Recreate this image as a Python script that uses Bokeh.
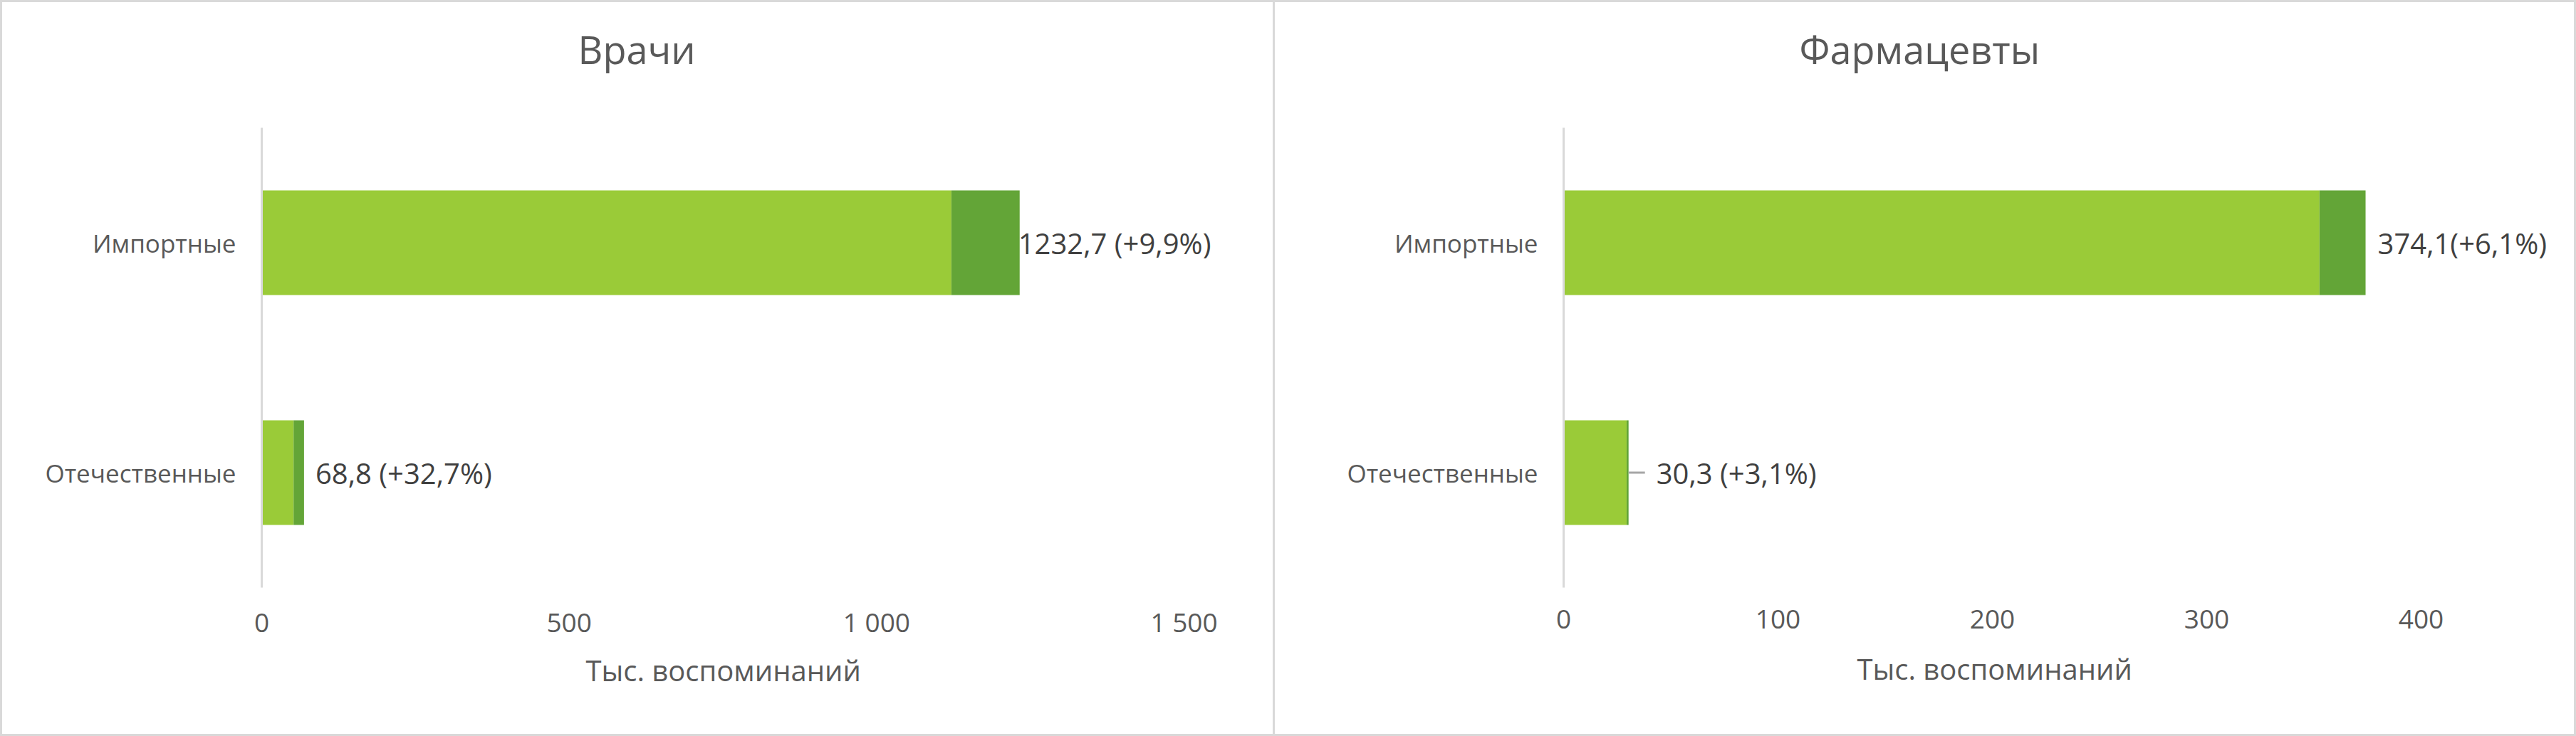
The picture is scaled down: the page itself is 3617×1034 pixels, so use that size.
from bokeh.plotting import figure
from bokeh.models import ColumnDataSource, FactorRange, Range1d, FixedTicker, LabelSet, Title
from bokeh.layouts import row
from bokeh.embed import file_html
from bokeh.resources import INLINE
from bokeh.core.properties import value

# ---------------- data ----------------
categories = ["Отечественные", "Импортные"]  # bottom -> top

doctors_title = "Врачи"
doctors_totals = [68.8, 1232.7]
doctors_growth = [32.7, 9.9]
doctors_labels = ["68,8 (+32,7%)", "1232,7 (+9,9%)"]
doctors_ticks = [0, 500, 1000, 1500]
doctors_tick_labels = ["0", "500", "1 000", "1 500"]

pharm_title = "Фармацевты"
pharm_totals = [30.3, 374.1]
pharm_growth = [3.1, 6.1]
pharm_labels = ["30,3 (+3,1%)", "374,1(+6,1%)"]
pharm_ticks = [0, 100, 200, 300, 400]
pharm_tick_labels = ["0", "100", "200", "300", "400"]

x_title = "Тыс. воспоминаний"

# ---------------- style ----------------
LIGHT = "#9ACB38"
DARK = "#63A537"
GRID = "#D9D9D9"
TXT = "#595959"
LBL = "#404040"
FONT = "Open Sans"

HEIGHT = 1034
FRAME_TOP = 179
FRAME_H = 646


def make_panel(title, totals, growth, labels, ticks, tick_labels,
               label_offsets, leader, width, frame_left, axis_px,
               title_offset, xtitle_offset, tick_standoff, xtitle_standoff,
               frame_css):
    axis_max = ticks[-1]
    frame_w = width - frame_left - 12
    x_end = axis_max * frame_w / float(axis_px)   # same scale, room for labels
    prev = [t / (1 + g / 100.0) for t, g in zip(totals, growth)]
    src = ColumnDataSource(dict(cat=categories, prev=prev, total=totals,
                                label=labels, off=label_offsets))
    p = figure(y_range=FactorRange(*categories), x_range=Range1d(0, x_end),
               frame_width=frame_w, frame_height=FRAME_H,
               min_border_left=frame_left,
               min_border_right=width - frame_left - frame_w,
               min_border_top=FRAME_TOP,
               min_border_bottom=HEIGHT - FRAME_TOP - FRAME_H,
               toolbar_location=None, tools="", output_backend="svg",
               styles=frame_css)
    p.background_fill_color = None
    p.border_fill_color = None
    p.outline_line_color = None
    p.xgrid.visible = False
    p.ygrid.visible = False

    p.hbar(y="cat", left=0, right="prev", height=0.455, fill_color=LIGHT,
           line_color=None, source=src)
    p.hbar(y="cat", left="prev", right="total", height=0.455, fill_color=DARK,
           line_color=None, source=src)

    # leader line for moved labels
    px = x_end / float(frame_w)
    lx0, lx1, ly = [], [], []
    for c, t, l in zip(categories, totals, leader):
        if l:
            lx0.append(t)
            lx1.append(t + 23 * px)
            ly.append(c)
    if lx0:
        p.segment(x0=lx0, x1=lx1, y0=ly, y1=ly, line_color="#A6A6A6", line_width=3)

    p.add_layout(LabelSet(x="total", y="cat", text="label", x_offset="off",
                          source=src, text_align="left", text_baseline="middle",
                          text_font=value(FONT), text_font_size="40px",
                          text_color=LBL))

    # x axis
    xa = p.xaxis[0]
    xa.ticker = FixedTicker(ticks=ticks)
    xa.major_label_overrides = {t: s for t, s in zip(ticks, tick_labels)}
    xa.axis_line_color = None
    xa.major_tick_line_color = None
    xa.minor_tick_line_color = None
    xa.major_tick_out = 0
    xa.major_tick_in = 0
    xa.major_label_standoff = tick_standoff
    xa.major_label_text_font = FONT
    xa.major_label_text_font_size = "37px"
    xa.major_label_text_color = TXT

    # x axis title (placed under the visible 0..max scale)
    p.add_layout(Title(text=x_title, align="left", offset=xtitle_offset,
                       standoff=xtitle_standoff, text_font=FONT,
                       text_font_size="40px", text_font_style="normal",
                       text_color=TXT), "below")

    # y axis
    ya = p.yaxis[0]
    ya.axis_line_color = GRID
    ya.axis_line_width = 3
    ya.major_tick_line_color = None
    ya.minor_tick_line_color = None
    ya.major_tick_out = 0
    ya.major_tick_in = 0
    ya.major_label_standoff = 36
    ya.major_label_text_font = FONT
    ya.major_label_text_font_size = "35px"
    ya.major_label_text_color = TXT

    # gap between chart title and plot area, then the chart title
    p.add_layout(Title(text=" ", standoff=53, text_font=FONT,
                       text_font_size="10px", text_color="white"), "above")
    p.add_layout(Title(text=title, align="left", offset=title_offset,
                       standoff=10, text_font=FONT, text_font_size="54px",
                       text_font_style="normal", text_color=TXT), "above")
    return p


left_css = {"box-shadow": "inset 0 0 0 3px #D9D9D9"}
right_css = {"box-shadow": "inset 0 3px 0 0 #D9D9D9, inset -3px 0 0 0 #D9D9D9, inset 0 -3px 0 0 #D9D9D9"}

p1 = make_panel(doctors_title, doctors_totals, doctors_growth, doctors_labels,
                doctors_ticks, doctors_tick_labels,
                [16, -2], [False, False], 1790, 367, 1295, 444, 455, 22, 20,
                left_css)
p2 = make_panel(pharm_title, pharm_totals, pharm_growth, pharm_labels,
                pharm_ticks, pharm_tick_labels,
                [39, 17], [True, False], 1827, 405, 1204, 331, 412, 31, 48,
                right_css)

layout = row(p1, p2, spacing=0)
open("out.html", "w").write(file_html(layout, INLINE))
